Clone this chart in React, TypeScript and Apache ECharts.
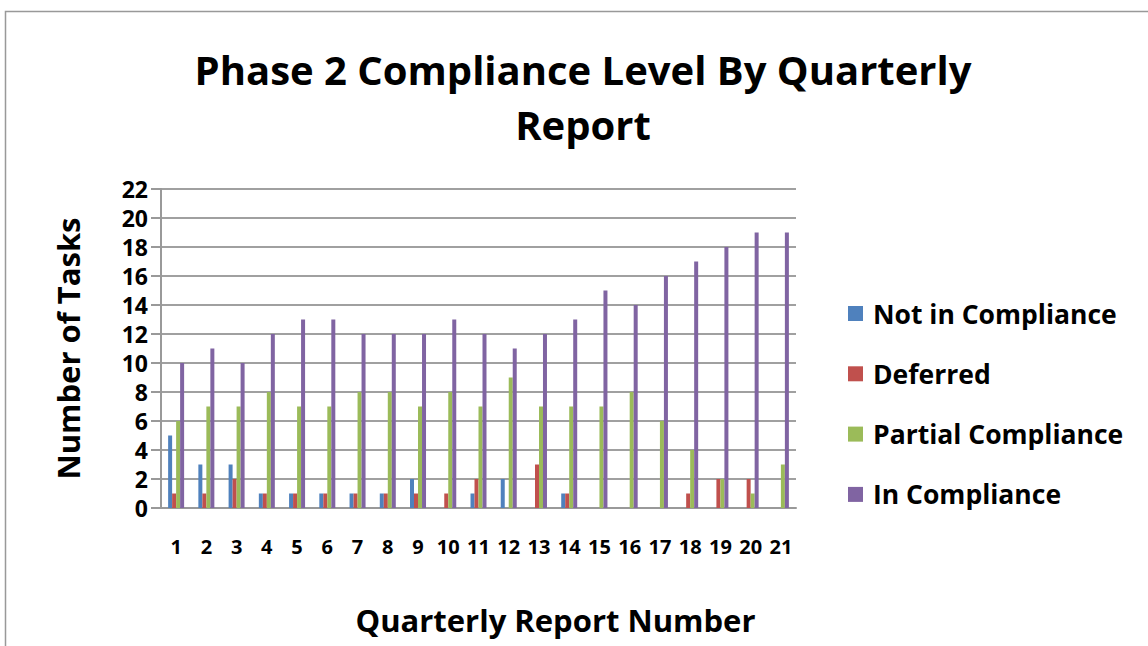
import React, { useEffect, useRef } from "react";
import * as echarts from "echarts";

const categories = ["1","2","3","4","5","6","7","8","9","10","11","12","13","14","15","16","17","18","19","20","21"];
const notInCompliance = [5,3,3,1,1,1,1,1,2,0,1,2,0,1,0,0,0,0,0,0,0];
const deferred =        [1,1,2,1,1,1,1,1,1,1,2,0,3,1,0,0,0,1,2,2,0];
const partial =         [6,7,7,8,7,7,8,8,7,8,7,9,7,7,7,8,6,4,2,1,3];
const inCompliance =    [10,11,10,12,13,13,12,12,12,13,12,11,12,13,15,14,16,17,18,19,19];

const FONT = "Open Sans";

export default function App() {
  const ref = useRef<HTMLDivElement>(null);
  useEffect(() => {
    const chart = echarts.init(ref.current!, undefined, { renderer: "svg" });
    const mk = (name: string, data: number[], color: string) => ({
      name,
      type: "bar",
      data,
      barWidth: 4,
      barGap: "0%",
      itemStyle: { color },
    });
    chart.setOption({
      animation: false,
      backgroundColor: "#fff",
      title: {
        text: "Phase 2 Compliance Level By Quarterly\nReport",
        left: 583,
        top: 42,
        textAlign: "center",
        padding: 0,
        textStyle: { fontFamily: FONT, fontWeight: "bold", fontSize: 40, lineHeight: 55, color: "#000" },
      },
      legend: {
        orient: "vertical",
        left: 848,
        top: 300,
        padding: 0,
        itemWidth: 15,
        itemHeight: 15,
        itemGap: 33.3,
        icon: "rect",
        textStyle: { fontFamily: FONT, fontWeight: "bold", fontSize: 26.5, lineHeight: 26, color: "#000", padding: [0, 0, 0, 5] },
      },
      grid: { left: 161, top: 189, width: 635, height: 319, containLabel: false },
      xAxis: {
        type: "category",
        data: categories,
        name: "Quarterly Report Number",
        nameLocation: "middle",
        nameGap: 96,
        nameTextStyle: { fontFamily: FONT, fontWeight: "bold", fontSize: 31, color: "#000", padding: [0, 0, 0, 154] },
        axisLine: { lineStyle: { color: "#999", width: 2 } },
        axisTick: { show: false },
        axisLabel: { fontFamily: FONT, fontWeight: "bold", fontSize: 20, lineHeight: 20, color: "#000", margin: 28 },
      },
      yAxis: {
        type: "value",
        min: 0,
        max: 22,
        interval: 2,
        name: "Number of Tasks",
        nameLocation: "middle",
        nameGap: 78,
        nameTextStyle: { fontFamily: FONT, fontWeight: "bold", fontSize: 31, color: "#000" },
        axisLine: { show: true, lineStyle: { color: "#999", width: 2 } },
        axisTick: { show: true, length: 10, lineStyle: { color: "#999", width: 2 } },
        axisLabel: { fontFamily: FONT, fontWeight: "bold", fontSize: 23, lineHeight: 23, color: "#000", margin: 13 },
        splitLine: { lineStyle: { color: "#a0a0a0", width: 2 } },
      },
      graphic: [
        {
          type: "rect",
          left: 3,
          top: 9,
          shape: { width: 1200, height: 700 },
          style: { fill: "none", stroke: "#999", lineWidth: 1.5 },
          silent: true,
          z: -10,
        },
      ],
      series: [
        mk("Not in Compliance", notInCompliance, "#4F81BD"),
        mk("Deferred", deferred, "#C0504D"),
        mk("Partial Compliance", partial, "#9BBB59"),
        mk("In Compliance", inCompliance, "#8064A2"),
      ],
    });
    return () => chart.dispose();
  }, []);
  return <div ref={ref} style={{ position: "absolute", left: 0, top: 0, width: 1148, height: 646 }} />;
}
